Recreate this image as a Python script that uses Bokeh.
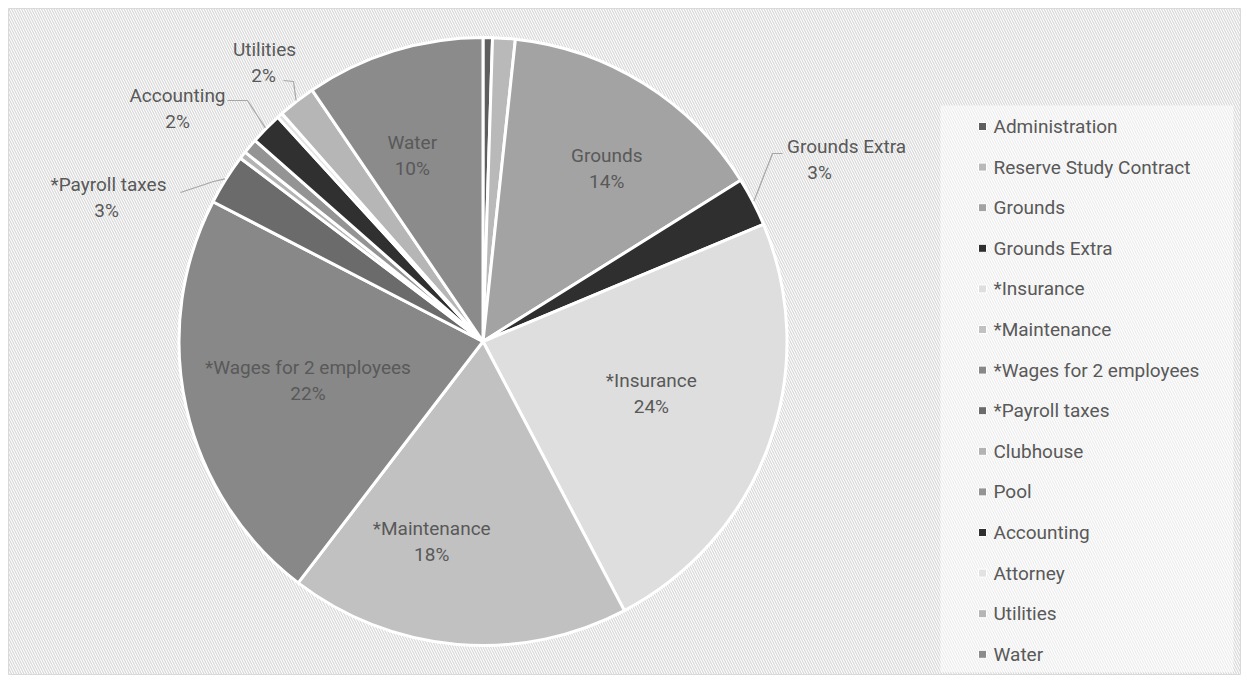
import math
from bokeh.plotting import figure
from bokeh.models import Range1d, ColumnDataSource
from bokeh.core.properties import value
from bokeh.embed import file_html
from bokeh.resources import INLINE

# ---------------- data ----------------
categories = ["Administration", "Reserve Study Contract", "Grounds", "Grounds Extra",
              "*Insurance", "*Maintenance", "*Wages for 2 employees", "*Payroll taxes",
              "Clubhouse", "Pool", "Accounting", "Attorney", "Utilities", "Water"]
shares = [0.5, 1.2, 14.4, 2.6, 23.6, 18.1, 22.2, 2.7, 0.4, 0.8, 1.7, 0.3, 2.0, 9.5]

# ---------------- styles ----------------
colors = ["#5e5e5e", "#b9b9b9", "#a3a3a3", "#2f2f2f", "#dedede", "#c1c1c1", "#888888",
          "#6b6b6b", "#b3b3b3", "#949494", "#303030", "#e2e2e2", "#b6b6b6", "#8b8b8b"]
FONT = "Roboto"
FS = "19px"
TXT = "#595959"
W, H = 1241, 676


def to_data(ix, iy):
    return ix, H - iy


CX, CY = to_data(482.5, 341)
R = 304

total = sum(shares)
fr = [s / total for s in shares]
cum = [0.0]
for f in fr:
    cum.append(cum[-1] + f)
start = [math.pi / 2 - 2 * math.pi * c for c in cum[:-1]]
end = [math.pi / 2 - 2 * math.pi * c for c in cum[1:]]
mid = [(a + b) / 2 for a, b in zip(start, end)]
pct = [f"{round(f * 100)}%" for f in fr]

p = figure(width=W, height=H, x_range=Range1d(0, W), y_range=Range1d(0, H),
           output_backend="svg", toolbar_location=None, min_border=0,
           x_axis_location=None, y_axis_location=None)
p.grid.visible = False
p.outline_line_color = None
p.background_fill_color = "white"
p.border_fill_color = "white"

# hatched chart area with thin border
bx0, by0 = to_data(8, 674)
bx1, by1 = to_data(1240, 8)
p.quad(left=[bx0], right=[bx1], bottom=[by0], top=[by1], fill_color="white",
       line_color="#d9d9d9", line_width=1,
       hatch_pattern="left_diagonal_line", hatch_color="#dadada", hatch_scale=5,
       hatch_weight=1.3)

# legend panel
lx0, ly0 = to_data(940, 672)
lx1, ly1 = to_data(1233, 105)
p.quad(left=[lx0], right=[lx1], bottom=[ly0], top=[ly1], fill_color="white",
       fill_alpha=0.55, line_color=None)

src = ColumnDataSource(dict(cat=categories, start=start, end=end, color=colors))
p.wedge(x=CX, y=CY, radius=R, start_angle="start", end_angle="end", direction="clock",
        fill_color="color", line_color="white", line_width=3, source=src)

# inside labels (layout: clockwise angle nudge in degrees, radius fraction)
inside = {"Water": (-3.7, 0.655), "Grounds": (3.5, 0.70), "*Insurance": (-2.5, 0.58),
          "*Maintenance": (9.5, 0.68), "*Wages for 2 employees": (0, 0.59)}
names_x, names_y, names_t, pct_x, pct_y, pct_t = [], [], [], [], [], []
for i, c in enumerate(categories):
    if c in inside:
        dang, rf = inside[c]
        a = mid[i] - math.radians(dang)
        x = CX + rf * R * math.cos(a)
        y = CY + rf * R * math.sin(a)
        names_x.append(x); names_y.append(y + 13); names_t.append(c)
        pct_x.append(x); pct_y.append(y - 13); pct_t.append(pct[i])

# outside labels: label centre (image offset from pie centre), pct x shift,
# leader elbow & end
outside = {
    "Grounds Extra": ((363.5, -182), -27, [(289.5, -188), (299.5, -188)]),
    "*Payroll taxes": ((-374.5, -144), -2, [(-269.5, -160), (-302.5, -149)]),
    "Accounting": ((-305.5, -233), 0, [(-235.5, -241), (-255.5, -241)]),
    "Utilities": ((-218.5, -279), -1, [(-189.5, -260), (-199.5, -261)]),
}
for i, c in enumerate(categories):
    if c in outside:
        (dx, dy), pshift, pts = outside[c]
        bx, by = CX + dx, CY - dy
        names_x.append(bx); names_y.append(by + 13); names_t.append(c)
        pct_x.append(bx + pshift); pct_y.append(by - 13); pct_t.append(pct[i])
        xs = [CX + (R + 1) * math.cos(mid[i])] + [CX + q[0] for q in pts]
        ys = [CY + (R + 1) * math.sin(mid[i])] + [CY - q[1] for q in pts]
        p.line(xs, ys, line_color="#a6a6a6", line_width=1.2)

p.text(x=names_x, y=names_y, text=names_t, text_align="center", text_baseline="middle",
       text_font=value(FONT), text_font_size=FS, text_color=TXT)
p.text(x=pct_x, y=pct_y, text=pct_t, text_align="center", text_baseline="middle",
       text_font=value(FONT), text_font_size=FS, text_color=TXT)

# legend
top_x, top_y = to_data(982, 126)
pitch = 40.6
ly = [top_y - k * pitch for k in range(len(categories))]
p.rect(x=[top_x] * len(categories), y=ly, width=8, height=8, width_units="screen",
       height_units="screen", fill_color=colors, line_color="white", line_width=1)
p.text(x=[top_x + 11] * len(categories), y=ly, text=categories, text_align="left",
       text_baseline="middle", text_font=value(FONT), text_font_size=FS,
       text_color=TXT)

open("out.html", "w").write(file_html(p, INLINE))
